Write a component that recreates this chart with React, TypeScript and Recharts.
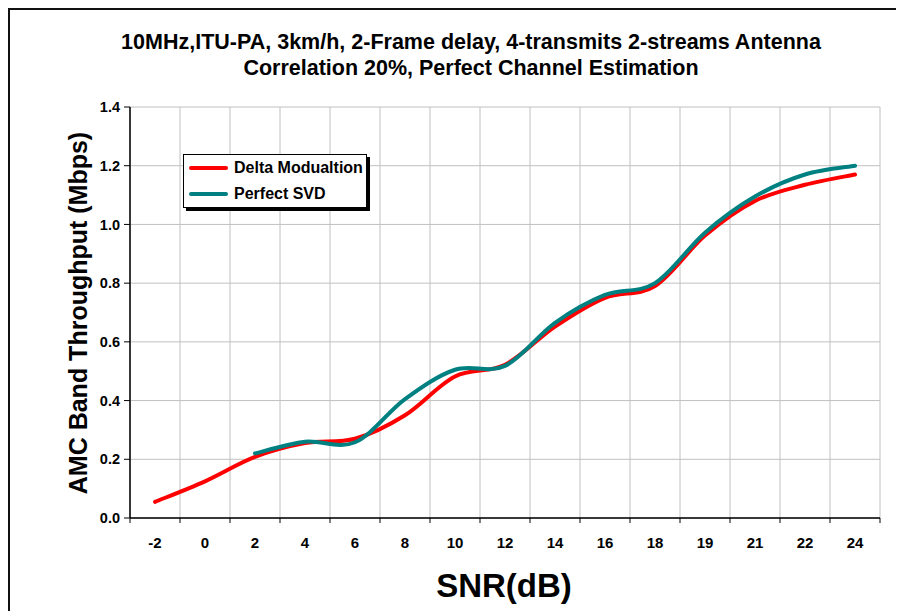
import { LineChart, Line, XAxis, YAxis, CartesianGrid, Legend } from 'recharts';

const snrLabels = ['-2', '0', '2', '4', '6', '8', '10', '12', '14', '16', '18', '19', '21', '22', '24'];
const deltaModulation = [0.055, 0.125, 0.208, 0.255, 0.27, 0.35, 0.482, 0.522, 0.652, 0.75, 0.79, 0.962, 1.08, 1.135, 1.17];
const perfectSvd = [null, null, 0.22, 0.26, 0.258, 0.405, 0.505, 0.518, 0.665, 0.76, 0.8, 0.972, 1.095, 1.17, 1.2];
const yTicks = [0, 0.2, 0.4, 0.6, 0.8, 1.0, 1.2, 1.4];

const data = snrLabels.map((label, i) => ({
  idx: i,
  snr: label,
  delta: deltaModulation[i],
  svd: perfectSvd[i],
}));

// category boundaries, so grid lines and tick marks sit between the labels
const xBounds = [...snrLabels.map((_, i) => i - 0.5), snrLabels.length - 0.5];

const FONT = '"Liberation Sans", Arial, sans-serif';
const CHART_W = 892;
const CHART_H = 603;
const MARGIN = { top: 99, right: 20, left: 60, bottom: 53 };
const Y_AXIS_W = 62;
const PLOT_W = CHART_W - MARGIN.left - MARGIN.right - Y_AXIS_W;
const BIN = PLOT_W / snrLabels.length;

// Excel-like smoothed line (cardinal spline, control points at 1/6 of neighbour span)
function excelSmooth(context: any) {
  let xs: number[] = [];
  let ys: number[] = [];
  return {
    areaStart() {},
    areaEnd() {},
    lineStart() { xs = []; ys = []; },
    point(x: number, y: number) { xs.push(+x); ys.push(+y); },
    lineEnd() {
      const n = xs.length;
      if (!n) return;
      context.moveTo(xs[0], ys[0]);
      if (n === 1) { context.lineTo(xs[0], ys[0]); return; }
      for (let i = 0; i < n - 1; i++) {
        const a = Math.max(i - 1, 0);
        const d = Math.min(i + 2, n - 1);
        context.bezierCurveTo(
          xs[i] + (xs[i + 1] - xs[a]) / 6, ys[i] + (ys[i + 1] - ys[a]) / 6,
          xs[i + 1] - (xs[d] - xs[i]) / 6, ys[i + 1] - (ys[d] - ys[i]) / 6,
          xs[i + 1], ys[i + 1],
        );
      }
    },
  };
}

const XTick = ({ x, y, payload }: any) => {
  const i = Math.round(payload.value + 0.5);
  if (i < 0 || i >= snrLabels.length) return <g />;
  return (
    <text x={x + BIN / 2} y={y} dy="0.71em" textAnchor="middle"
      fontFamily={FONT} fontWeight="bold" fontSize={15} fill="#000">
      {snrLabels[i]}
    </text>
  );
};

const legendItems = [
  { name: 'Delta Modualtion', color: '#ff0000' },
  { name: 'Perfect SVD', color: '#008080' },
];

const LegendBox = () => (
  <div style={{
    width: 184, height: 54, boxSizing: 'border-box', background: '#fff',
    border: '1px solid #000', boxShadow: '3px 3px 0 #000', paddingLeft: 5,
  }}>
    {legendItems.map(it => (
      <div key={it.name} style={{ display: 'flex', alignItems: 'center', height: 26 }}>
        <span style={{ width: 39, height: 4, background: it.color, borderRadius: 2, marginRight: 6 }} />
        <span style={{ fontFamily: FONT, fontWeight: 'bold', fontSize: 16, color: '#000' }}>{it.name}</span>
      </div>
    ))}
  </div>
);

export default function App() {
  return (
    <div style={{ position: 'relative', width: CHART_W, height: 620 }}>
      <style>{'html,body{overflow:hidden}'}</style>
      <div style={{
        position: 'absolute', left: 0, top: 0, width: CHART_W, height: 620,
        border: '2px solid #111', boxSizing: 'border-box',
      }} />
      <div style={{
        position: 'absolute', left: 63, top: 21, width: 800, textAlign: 'center',
        fontFamily: FONT, fontWeight: 'bold', fontSize: 21.5, lineHeight: '26px', color: '#000',
      }}>
        10MHz,ITU-PA, 3km/h, 2-Frame delay, 4-transmits 2-streams Antenna<br />
        Correlation 20%, Perfect Channel Estimation
      </div>
      <LineChart width={CHART_W} height={CHART_H} data={data} margin={MARGIN}
        style={{ position: 'absolute', left: 0, top: 0 }}>
        <CartesianGrid stroke="#c0c0c0" strokeWidth={1} />
        <XAxis
          type="number"
          dataKey="idx"
          domain={[-0.5, snrLabels.length - 0.5]}
          ticks={xBounds}
          interval={0}
          height={40}
          tick={<XTick />}
          tickSize={5}
          tickMargin={14}
          axisLine={{ stroke: '#000', strokeWidth: 1.5 }}
          tickLine={{ stroke: '#000' }}
        />
        <YAxis
          type="number"
          domain={[0, 1.4]}
          ticks={yTicks}
          interval={0}
          width={Y_AXIS_W}
          tickFormatter={(v: number) => v.toFixed(1)}
          tick={{ fill: '#000', fontSize: 14.5, fontWeight: 'bold', fontFamily: FONT }}
          tickSize={6}
          tickMargin={4}
          axisLine={{ stroke: '#000', strokeWidth: 1.5 }}
          tickLine={{ stroke: '#000' }}
        />
        <Legend
          layout="vertical"
          align="center"
          verticalAlign="middle"
          content={<LegendBox />}
          wrapperStyle={{ left: 175, top: 146, width: 190, height: 60 }}
        />
        <Line
          type={excelSmooth as any}
          dataKey="delta"
          name="Delta Modualtion"
          stroke="#ff0000"
          strokeWidth={4}
          strokeLinecap="round"
          strokeLinejoin="round"
          dot={false}
          activeDot={false}
          isAnimationActive={false}
        />
        <Line
          type={excelSmooth as any}
          dataKey="svd"
          name="Perfect SVD"
          stroke="#008080"
          strokeWidth={4}
          strokeLinecap="round"
          strokeLinejoin="round"
          dot={false}
          activeDot={false}
          isAnimationActive={false}
        />
      </LineChart>
      <div style={{
        position: 'absolute', left: 70 - 200, top: 305 - 13, width: 400, height: 26,
        transform: 'rotate(-90deg)', textAlign: 'center',
        fontFamily: FONT, fontWeight: 'bold', fontSize: 25, lineHeight: '26px', color: '#000',
      }}>
        AMC Band Throughput (Mbps)
      </div>
      <div style={{
        position: 'absolute', left: 496 - 200, top: 561, width: 400, textAlign: 'center',
        fontFamily: FONT, fontWeight: 'bold', fontSize: 33, lineHeight: '33px', color: '#000',
      }}>
        SNR(dB)
      </div>
    </div>
  );
}
